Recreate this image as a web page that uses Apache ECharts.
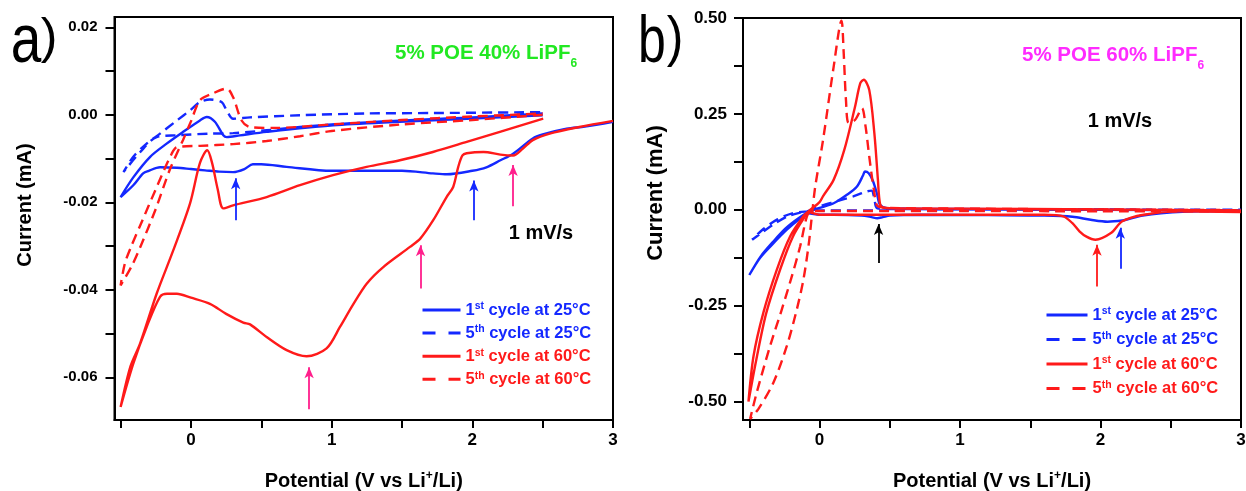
<!DOCTYPE html>
<html>
<head>
<meta charset="utf-8">
<script src="https://cdn.jsdelivr.net/npm/echarts@6/dist/echarts.min.js"></script>
<style>
html,body{margin:0;padding:0;background:#fff;}
#chart{width:1246px;height:491px;}
</style>
</head>
<body>
<div id="chart"></div>
<script>
// ---------- DATA ----------
const seriesNames = ['1st cycle at 25°C', '5th cycle at 25°C', '1st cycle at 60°C', '5th cycle at 60°C'];

// Panel a) 5% POE 40% LiPF6  [potential V, current mA]
const a_1st25 = [
  [3.0,-0.0016],[2.8,-0.0027],[2.67,-0.0032],[2.5,-0.0045],[2.43,-0.0054],[2.29,-0.0089],[2.2,-0.0104],[2.1,-0.0120],[2.0,-0.0128],[1.82,-0.0136],[1.72,-0.0134],[1.5,-0.0128],[1.0,-0.0128],[0.68,-0.0119],[0.5,-0.0113],[0.44,-0.0113],[0.38,-0.0124],[0.3,-0.0131],[0.2,-0.0130],[0.1,-0.0127],[0.0,-0.0124],[-0.1,-0.0121],[-0.22,-0.0120],[-0.3,-0.0128],[-0.34,-0.0134],[-0.41,-0.0161],[-0.5,-0.0188],
  [-0.41,-0.0143],[-0.29,-0.0096],[-0.173,-0.0066],[-0.055,-0.0039],[0.064,-0.0013],[0.112,-0.0005],[0.17,-0.0016],[0.23,-0.0047],[0.254,-0.0051],[0.348,-0.0047],[0.538,-0.0039],[1.01,-0.0024],[1.485,-0.0016],[1.96,-0.0009],[2.5,-0.0001]
];
const a_5th25 = [
  [2.5,0.0003],[2.0,-0.0006],[1.5,-0.0013],[1.0,-0.0022],[0.775,-0.0028],[0.3,-0.0042],[0.135,-0.0043],[-0.1,-0.0047],[-0.244,-0.0051],[-0.36,-0.0085],[-0.48,-0.0131],
  [-0.41,-0.0096],[-0.315,-0.0066],[-0.22,-0.0043],[-0.1,-0.0013],[-0.007,0.0010],[0.064,0.0029],[0.135,0.0035],[0.218,0.0029],[0.254,0.0010],[0.3,-0.0009],[0.42,-0.0006],[0.775,-0.0001],[1.249,0.0003],[1.72,0.0004],[2.5,0.0006]
];
const a_1st60 = [
  [3.0,-0.0014],[2.76,-0.0028],[2.55,-0.0043],[2.43,-0.0058],[2.36,-0.0077],[2.29,-0.0093],[2.2,-0.0091],[2.08,-0.0085],[1.96,-0.0088],[1.93,-0.0093],[1.9,-0.0119],[1.864,-0.0165],[1.817,-0.0188],[1.722,-0.0241],[1.63,-0.0283],[1.557,-0.0302],[1.367,-0.0348],[1.249,-0.0386],[1.15,-0.0435],[1.059,-0.0485],[0.964,-0.0534],[0.822,-0.0552],[0.68,-0.0538],[0.538,-0.0508],[0.42,-0.0479],[0.372,-0.0475],[0.25,-0.0455],[0.135,-0.0432],[0.0,-0.0418],[-0.10,-0.0409],[-0.17,-0.0409],[-0.22,-0.0416],[-0.315,-0.0485],[-0.41,-0.0569],[-0.5,-0.0668],
  [-0.43,-0.0575],[-0.362,-0.0523],[-0.244,-0.0409],[-0.126,-0.0310],[-0.007,-0.0203],[0.064,-0.0110],[0.116,-0.0081],[0.15,-0.0110],[0.19,-0.0170],[0.23,-0.0214],[0.30,-0.0207],[0.538,-0.0188],[0.775,-0.0161],[1.01,-0.0138],[1.249,-0.0119],[1.485,-0.0104],[1.72,-0.0085],[1.96,-0.0062],[2.196,-0.0039],[2.504,-0.0009]
];
const a_5th60 = [
  [2.5,0.0000],[2.0,-0.0012],[1.5,-0.0022],[1.0,-0.0037],[0.775,-0.0049],[0.538,-0.0060],[0.3,-0.0067],[0.064,-0.0071],[-0.1,-0.0074],[-0.137,-0.0089],[-0.25,-0.0170],[-0.35,-0.0245],[-0.43,-0.0305],[-0.47,-0.0340],[-0.5,-0.0390],
  [-0.42,-0.0345],[-0.36,-0.0302],[-0.25,-0.0215],[-0.15,-0.0125],[-0.057,-0.0058],[0.0,-0.0015],[0.064,0.0033],[0.15,0.0048],[0.254,0.0060],[0.3,0.0040],[0.36,-0.0013],[0.42,-0.0028],[0.6,-0.0030],[1.0,-0.0022],[1.5,-0.0012],[2.0,-0.0004],[2.5,0.0003]
];

// Panel b) 5% POE 60% LiPF6
const b_1st25 = [
  [3.0,-0.004],[2.69,-0.004],[2.43,-0.009],[2.3,-0.015],[2.2,-0.024],[2.155,-0.028],[2.05,-0.031],[1.93,-0.026],[1.8,-0.018],[1.6,-0.015],[1.2,-0.014],[0.72,-0.013],[0.5,-0.015],[0.45,-0.019],[0.41,-0.022],[0.37,-0.019],[0.3,-0.015],[0.1,-0.013],[0.0,-0.013],[-0.079,-0.009],[-0.15,-0.026],[-0.233,-0.052],[-0.328,-0.087],[-0.423,-0.125],[-0.5,-0.170],
  [-0.42,-0.122],[-0.33,-0.083],[-0.24,-0.048],[-0.15,-0.022],[-0.079,-0.006],[0.0,0.005],[0.1,0.017],[0.194,0.039],[0.265,0.060],[0.31,0.090],[0.323,0.100],[0.35,0.095],[0.38,0.075],[0.41,0.040],[0.43,0.013],[0.48,0.004],[1.0,0.002],[2.0,0.000],[3.0,-0.002]
];
const b_5th25 = [
  [3.0,-0.002],[2.0,-0.002],[1.0,-0.002],[0.5,-0.002],[0.0,-0.002],[-0.08,-0.004],[-0.2,-0.010],[-0.3,-0.025],[-0.4,-0.050],[-0.48,-0.078],
  [-0.42,-0.062],[-0.32,-0.036],[-0.22,-0.016],[-0.12,-0.006],[-0.079,-0.003],[0.0,0.009],[0.12,0.022],[0.24,0.035],[0.337,0.048],[0.37,0.050],[0.39,0.030],[0.41,0.004],[0.6,0.002],[1.5,0.001],[3.0,0.000]
];
const b_1st60 = [
  [3.0,-0.006],[2.56,-0.004],[2.307,-0.013],[2.155,-0.030],[2.077,-0.060],[1.964,-0.078],[1.9,-0.070],[1.85,-0.056],[1.8,-0.035],[1.736,-0.017],[1.6,-0.013],[1.0,-0.013],[0.5,-0.013],[0.0,-0.013],[-0.079,-0.006],[-0.1,-0.015],[-0.19,-0.070],[-0.28,-0.155],[-0.38,-0.270],[-0.45,-0.390],[-0.506,-0.500],
  [-0.47,-0.381],[-0.4,-0.268],[-0.304,-0.156],[-0.209,-0.069],[-0.115,-0.017],[-0.079,-0.004],[0.0,0.020],[0.024,0.035],[0.1,0.078],[0.176,0.156],[0.252,0.268],[0.29,0.330],[0.315,0.339],[0.354,0.312],[0.39,0.200],[0.415,0.080],[0.425,0.030],[0.44,0.008],[0.5,0.004],[1.0,0.003],[2.0,0.001],[3.0,-0.002]
];
const b_5th60 = [
  [3.0,-0.004],[2.0,-0.004],[1.0,-0.003],[0.5,-0.003],[0.0,-0.003],[-0.06,-0.004],[-0.09,-0.017],[-0.138,-0.095],[-0.197,-0.173],[-0.269,-0.260],[-0.352,-0.355],[-0.447,-0.476],[-0.494,-0.545],
  [-0.435,-0.519],[-0.328,-0.450],[-0.233,-0.355],[-0.162,-0.260],[-0.115,-0.182],[-0.079,-0.095],[-0.055,-0.017],[-0.031,0.060],[0.024,0.180],[0.1,0.372],[0.156,0.493],[0.171,0.415],[0.188,0.286],[0.207,0.226],[0.252,0.234],[0.302,0.265],[0.328,0.216],[0.354,0.138],[0.39,0.044],[0.415,0.009],[0.5,0.005],[1.0,0.003],[2.0,0.001],[3.0,-0.001]
];

// arrows: [potential, tail current, tip current]
const arrowsA = [[0.318,-0.0241,-0.0145],[2.011,-0.0241,-0.0150],[2.29,-0.0209,-0.0115],[1.632,-0.0397,-0.0298],[0.84,-0.0673,-0.0577]];
const arrowsB = [[0.42,-0.139,-0.037],[1.975,-0.200,-0.091],[2.141,-0.154,-0.047]];

// axis ticks / labels
const xTicks = [-0.5,0,0.5,1,1.5,2,2.5,3];
const xLabels = [0,1,2,3];
const yTicksA = [0.02,0.01,0,-0.01,-0.02,-0.03,-0.04,-0.05,-0.06];
const yLabelsA = [0.02,0,-0.02,-0.04,-0.06];
const yTicksB = [0.5,0.375,0.25,0.125,0,-0.125,-0.25,-0.375,-0.5];
const yLabelsB = [0.5,0.25,0,-0.25,-0.5];

// ---------- STYLE ----------
const FONT = '"Liberation Sans", Arial, Helvetica, sans-serif';
const BLUE = '#1428ff', RED = '#ff1a1a', PINK = '#ff1f8c', GREEN = '#22e822', MAGENTA = '#ff2bff';
const arrowColorsA = [BLUE, BLUE, PINK, PINK, PINK];
const arrowColorsB = ['#000000', RED, BLUE];
const DASH = [10, 6];

function line(name, data, color, dashed, gi) {
  return {
    type: 'line', name, data, xAxisIndex: gi, yAxisIndex: gi,
    symbol: 'none', smooth: 0.3, animation: false, silent: true,
    lineStyle: { color, width: 2.4, type: dashed ? DASH : 'solid' },
    itemStyle: { color }
  };
}
function arrows(list, colors, gi) {
  return {
    type: 'line', xAxisIndex: gi, yAxisIndex: gi, data: [], silent: true, animation: false,
    markLine: {
      silent: true, animation: false, symbol: ['none', 'arrow'], symbolSize: [7, 11],
      label: { show: false }, emphasis: { disabled: true },
      data: list.map((a, i) => [
        { coord: [a[0], a[1]], lineStyle: { color: colors[i], width: 1.8, type: 'solid' }, itemStyle: { color: colors[i] } },
        { coord: [a[0], a[2]] }
      ])
    }
  };
}
function xAxis(gi, min) {
  return {
    type: 'value', gridIndex: gi, min, max: 3,
    axisLine: { show: true, onZero: false, lineStyle: { color: '#000', width: 2 } },
    axisTick: { show: true, customValues: xTicks, length: 8, lineStyle: { color: '#000', width: 2 } },
    axisLabel: { customValues: xLabels, margin: 12, color: '#000', fontSize: 17, fontWeight: 'bold', fontFamily: FONT, formatter: v => String(v) },
    splitLine: { show: false },
    name: '{n|Potential (V vs Li}{s|+}{n|/Li)}', nameLocation: 'middle', nameGap: 50,
    nameTextStyle: {
      rich: {
        n: { fontSize: 20, fontWeight: 'bold', fontFamily: FONT, color: '#000', lineHeight: 22 },
        s: { fontSize: 12, fontWeight: 'bold', fontFamily: FONT, color: '#000', lineHeight: 10, verticalAlign: 'top' }
      }
    }
  };
}
function yAxis(gi, min, max, ticks, labels, fs, margin) {
  return {
    type: 'value', gridIndex: gi, min, max,
    axisLine: { show: true, onZero: false, lineStyle: { color: '#000', width: 2 } },
    axisTick: { show: true, customValues: ticks, length: 9, lineStyle: { color: '#000', width: 2 } },
    axisLabel: { customValues: labels, margin, color: '#000', fontSize: fs, fontWeight: 'bold', fontFamily: FONT, formatter: v => v.toFixed(2) },
    splitLine: { show: false }
  };
}
function legendRich() {
  return {
    bn: { color: BLUE, fontSize: 16.5, fontWeight: 'bold', fontFamily: FONT, lineHeight: 18 },
    bs: { color: BLUE, fontSize: 10.5, fontWeight: 'bold', fontFamily: FONT, lineHeight: 9, verticalAlign: 'top' },
    rn: { color: RED, fontSize: 16.5, fontWeight: 'bold', fontFamily: FONT, lineHeight: 18 },
    rs: { color: RED, fontSize: 10.5, fontWeight: 'bold', fontFamily: FONT, lineHeight: 9, verticalAlign: 'top' }
  };
}
function legend(left, top, gap, iw) {
  return {
    orient: 'vertical', left, top, padding: 0, itemWidth: iw, itemHeight: 18, itemGap: gap, selectedMode: false,
    itemStyle: { opacity: 0 },
    data: seriesNames.map((n, i) => ({ name: n, itemStyle: { opacity: 0 }, lineStyle: { width: 3, type: i % 2 ? [13, 13] : 'solid' } })),
    textStyle: { fontFamily: FONT, rich: legendRich() },
    formatter: name => {
      const m = name.match(/^(\d)(st|th)(.*)$/);
      const c = name.indexOf('25') >= 0 ? 'b' : 'r';
      return '{' + c + 'n|' + m[1] + '}{' + c + 's|' + m[2] + '}{' + c + 'n|' + m[3] + '}';
    }
  };
}
function subText(x, y, main, sub, color) {
  return {
    type: 'text', x, y, silent: true,
    style: {
      text: '{n|' + main + '}{s|' + sub + '}', align: 'left', textAlign: 'left', verticalAlign: 'middle', textVerticalAlign: 'middle',
      rich: {
        n: { fontSize: 20.5, fontWeight: 'bold', fontFamily: FONT, fill: color, color, lineHeight: 22 },
        s: { fontSize: 12, fontWeight: 'bold', fontFamily: FONT, fill: color, color, lineHeight: 12, padding: [22, 0, 0, 0] }
      }
    }
  };
}
function plainText(x, y, text, font, opts) {
  return Object.assign({
    type: 'text', x, y, silent: true,
    style: { text, font, fill: '#000', align: 'center', textAlign: 'center', verticalAlign: 'middle', textVerticalAlign: 'middle' }
  }, opts || {});
}

const chart = echarts.init(document.getElementById('chart'), null, { renderer: 'canvas' });
chart.setOption({
  animation: false,
  backgroundColor: '#fff',
  grid: [
    { left: 114.5, top: 17, width: 498.5, height: 403, containLabel: false, outerBoundsMode: 'none', show: true, borderColor: '#000', borderWidth: 2, backgroundColor: 'transparent' },
    { left: 743, top: 18, width: 498, height: 402, containLabel: false, outerBoundsMode: 'none', show: true, borderColor: '#000', borderWidth: 2, backgroundColor: 'transparent' }
  ],
  xAxis: [xAxis(0, -0.5435), xAxis(1, -0.545)],
  yAxis: [
    yAxis(0, -0.06976, 0.02235, yTicksA, yLabelsA, 15, 17),
    yAxis(1, -0.548, 0.5, yTicksB, yLabelsB, 17, 16)
  ],
  legend: [legend(421, 301, 5.6, 38), legend(1045, 306, 7, 41)],
  series: [
    line(seriesNames[0], a_1st25, BLUE, false, 0),
    line(seriesNames[1], a_5th25, BLUE, true, 0),
    line(seriesNames[3], a_5th60, RED, true, 0),
    line(seriesNames[2], a_1st60, RED, false, 0),
    arrows(arrowsA, arrowColorsA, 0),
    line(seriesNames[0], b_1st25, BLUE, false, 1),
    line(seriesNames[1], b_5th25, BLUE, true, 1),
    line(seriesNames[3], b_5th60, RED, true, 1),
    line(seriesNames[2], b_1st60, RED, false, 1),
    arrows(arrowsB, arrowColorsB, 1)
  ],
  graphic: [
    plainText(26, 43, 'a', '50px ' + FONT, { scaleX: 1.1, scaleY: 1.38 }),
    plainText(49, 39, ')', '50px ' + FONT),
    plainText(652, 44, 'b', '50px ' + FONT, { scaleY: 1.34 }),
    plainText(675, 40, ')', '50px ' + FONT, { scaleY: 1.12 }),
    plainText(25, 205, 'Current (mA)', 'bold 20px ' + FONT, { rotation: Math.PI / 2 }),
    plainText(656, 193, 'Current (mA)', 'bold 22px ' + FONT, { rotation: Math.PI / 2 }),
    plainText(541, 233, '1 mV/s', 'bold 20px ' + FONT),
    plainText(1120, 121, '1 mV/s', 'bold 20px ' + FONT),
    subText(395, 53, '5% POE 40% LiPF', '6', GREEN),
    subText(1022, 55, '5% POE 60% LiPF', '6', MAGENTA)
  ]
});
</script>
</body>
</html>
